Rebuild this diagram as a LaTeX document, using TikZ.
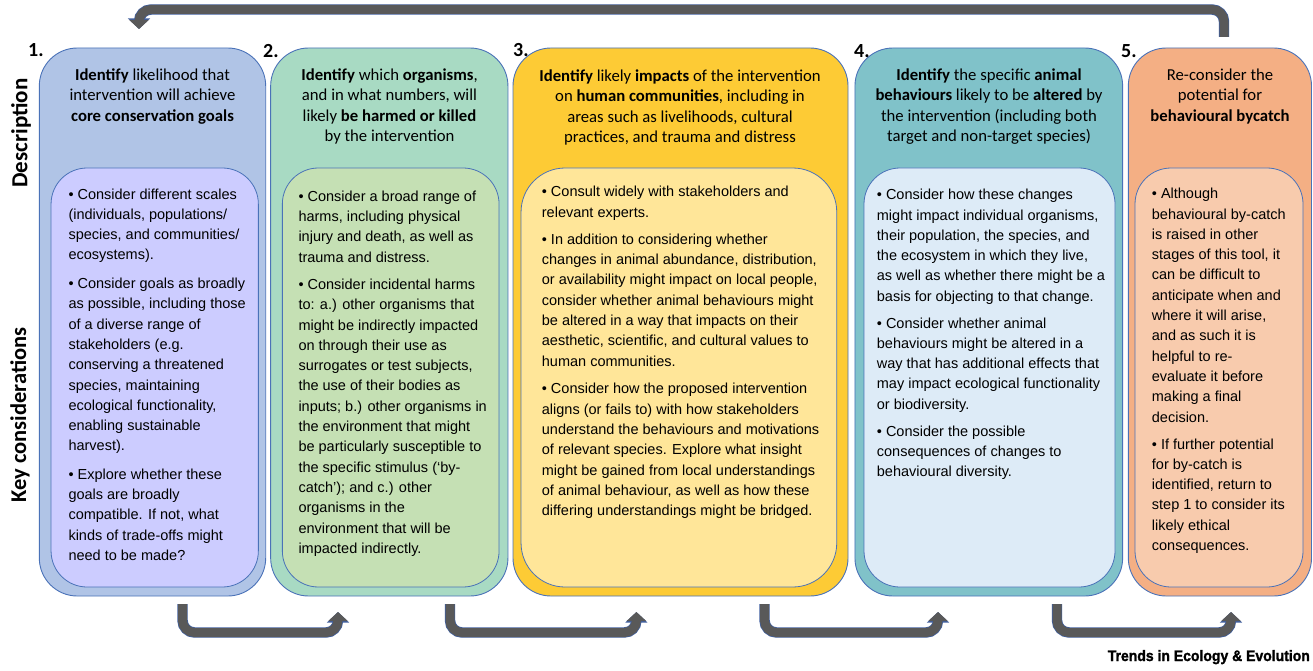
\documentclass[tikz,border=0pt]{standalone}
\usepackage{fontspec}
\usepackage{graphicx}
\setmainfont{Liberation Sans}
\newfontfamily\headfont{Carlito}
\newfontfamily\brandfont[FakeBold=1.6]{Liberation Sans Bold}
\usetikzlibrary{arrows.meta}
\definecolor{oA}{HTML}{B0C4E6}
\definecolor{iA}{HTML}{CCCCFF}
\definecolor{oB}{HTML}{A8DAC3}
\definecolor{iB}{HTML}{C5E0B4}
\definecolor{oC}{HTML}{FDCB35}
\definecolor{iC}{HTML}{FFE699}
\definecolor{oD}{HTML}{80C2C9}
\definecolor{iD}{HTML}{DDEBF7}
\definecolor{oE}{HTML}{F4AF84}
\definecolor{iE}{HTML}{F8CBAD}
\definecolor{edgeblue}{HTML}{4A72B8}
\definecolor{arrowgray}{HTML}{595959}
\definecolor{arrowedge}{HTML}{3F5F9F}
\begin{document}
\begin{tikzpicture}[x=1pt,y=-1pt,
  outerbox/.style={draw=edgeblue, line width=0.9pt, rounded corners=38pt, minimum height=548pt, inner sep=0pt},
  innerbox/.style={draw=edgeblue, line width=0.8pt, rounded corners=36pt, minimum height=419pt, inner sep=0pt},
  headtxt/.style={anchor=north, align=center, inner sep=0pt, font=\headfont\fontsize{16.7}{20.5}\selectfont},
  bodytxt/.style={anchor=north west, align=left, inner sep=0pt, font=\fontsize{14.5}{20.3}\selectfont},
  numlbl/.style={anchor=base west, inner sep=0pt, font=\headfont\bfseries\fontsize{20}{24}\selectfont},
  sidelbl/.style={rotate=90, inner sep=0pt, font=\headfont\bfseries\fontsize{23}{26}\selectfont},
  flowedge/.style={draw=arrowedge, line width=10.4pt, rounded corners=12pt, -{Triangle[width=21.5pt,length=10.5pt]}},
  flowfill/.style={draw=arrowgray, line width=9pt, rounded corners=12pt, -{Triangle[width=19pt,length=9pt]}}
]
\useasboundingbox (0,0) rectangle (1313,671);
\fill[white] (0,0) rectangle (1313,671);

% outer boxes
\node[outerbox, fill=oA, minimum width=226.4pt] (b1) at (152.5,322) {};
\node[outerbox, fill=oB, minimum width=237.3pt] (b2) at (389.3,322) {};
\node[outerbox, fill=oC, minimum width=335pt] (b3) at (680.5,322) {};
\node[outerbox, fill=oD, minimum width=267.7pt] (b4) at (988.8,322) {};
\node[outerbox, fill=oE, minimum width=183.2pt] (b5) at (1219.9,322) {};

% inner boxes
\node[innerbox, fill=iA, minimum width=207.3pt] (k1) at (154.7,377.5) {};
\node[innerbox, fill=iB, minimum width=216.7pt] (k2) at (390.7,377.5) {};
\node[innerbox, fill=iC, minimum width=315.7pt, rounded corners=44pt] (k3) at (678.9,377.5) {};
\node[innerbox, fill=iD, minimum width=251pt] (k4) at (989.5,377.5) {};
\node[innerbox, fill=iE, minimum width=168pt] (k5) at (1219,377.5) {};

% numbers
\node[numlbl] (n1) at (28,57) {1.};
\node[numlbl] (n2) at (263,58) {2.};
\node[numlbl] (n3) at (513,57) {3.};
\node[numlbl] (n4) at (854,58) {4.};
\node[numlbl] (n5) at (1121,58) {5.};

% side labels
\node[sidelbl] (ldesc) at (21,133) {Description};
\node[sidelbl, font=\headfont\bfseries\fontsize{22.5}{26}\selectfont] (lkey) at (20,415) {Key considerations};

% headings
\node[headtxt] (h1) at (152.5,68.5) {\textbf{Identify} likelihood that\\intervention will achieve\\\textbf{core conservation goals}};
\node[headtxt] (h2) at (389.5,68.5) {\textbf{Identify} which \textbf{organisms},\\and in what numbers, will\\likely \textbf{be harmed or killed}\\by the intervention};
\node[headtxt] (h3) at (680,69.5) {\textbf{Identify} likely \textbf{impacts} of the intervention\\on \textbf{human communities}, including in\\areas such as livelihoods, cultural\\practices, and trauma and distress};
\node[headtxt] (h4) at (989,68.5) {\textbf{Identify} the specific \textbf{animal}\\\textbf{behaviours} likely to be \textbf{altered} by\\the intervention (including both\\target and non-target species)};
\node[headtxt] (h5) at (1220,68.5) {Re-consider the\\potential for\\\textbf{behavioural bycatch}};

% body texts
\node[bodytxt] (t1) at (68.3,188.3) {• Consider different scales\\(individuals, populations/\\species, and communities/\\ecosystems).\\[8.3pt]
• Consider goals as broadly\\as possible, including those\\of a diverse range of\\stakeholders (e.g.\\conserving a threatened\\species, maintaining\\ecological functionality,\\enabling sustainable\\harvest).\\[8pt]
• Explore whether these\\goals are broadly\\compatible. If not, what\\kinds of trade-offs might\\need to be made?};

\node[bodytxt] (t2) at (298.3,190.5) {• Consider a broad range of\\harms, including physical\\injury and death, as well as\\trauma and distress.\\[7pt]
• Consider incidental harms\\to: a.) other organisms that\\might be indirectly impacted\\on through their use as\\surrogates or test subjects,\\the use of their bodies as\\inputs; b.) other organisms in\\the environment that might\\be particularly susceptible to\\the specific stimulus (‘by-\\catch’); and c.) other\\organisms in the\\environment that will be\\impacted indirectly.};

\node[bodytxt] (t3) at (541.7,186) {• Consult widely with stakeholders and\\relevant experts.\\[7pt]
• In addition to considering whether\\changes in animal abundance, distribution,\\or availability might impact on local people,\\consider whether animal behaviours might\\be altered in a way that impacts on their\\aesthetic, scientific, and cultural values to\\human communities.\\[7.5pt]
• Consider how the proposed intervention\\aligns (or fails to) with how stakeholders\\understand the behaviours and motivations\\of relevant species. Explore what insight\\might be gained from local understandings\\of animal behaviour, as well as how these\\differing understandings might be bridged.};

\node[bodytxt] (t4) at (876.7,189) {• Consider how these changes\\might impact individual organisms,\\their population, the species, and\\the ecosystem in which they live,\\as well as whether there might be a\\basis for objecting to that change.\\[6.5pt]
• Consider whether animal\\behaviours might be altered in a\\way that has additional effects that\\may impact ecological functionality\\or biodiversity.\\[6.7pt]
• Consider the possible\\consequences of changes to\\behavioural diversity.};

\node[bodytxt] (t5) at (1151.7,188) {• Although\\behavioural by-catch\\is raised in other\\stages of this tool, it\\can be difficult to\\anticipate when and\\where it will arise,\\and as such it is\\helpful to re-\\evaluate it before\\making a final\\decision.\\[6.7pt]
• If further potential\\for by-catch is\\identified, return to\\step 1 to consider its\\likely ethical\\consequences.};

% arrow end points
\coordinate (top-s) at (1224,37);
\coordinate (top-e) at (139,29);
\coordinate (a1s) at (182.5,604);
\coordinate (a1e) at (338,612);
\coordinate (a2s) at (450,604);
\coordinate (a2e) at (636.4,612);
\coordinate (a3s) at (764.5,604);
\coordinate (a3e) at (938,612);
\coordinate (a4s) at (1057,604);
\coordinate (a4e) at (1231,612);

\draw[flowedge] (top-s) -- ++(0,-27.5) -| (top-e);
\draw[flowfill] (top-s) -- ++(0,-27.5) -| (top-e);
\foreach \s/\e in {a1s/a1e,a2s/a2e,a3s/a3e,a4s/a4e}{
  \draw[flowedge] (\s) -- ++(0,28.5) -| (\e);
  \draw[flowfill] (\s) -- ++(0,28.5) -| (\e);
}

\node[anchor=base east, inner sep=0pt] (brand) at (1310,661) {\resizebox{202pt}{11pt}{\brandfont Trends in Ecology \& Evolution}};
\end{tikzpicture}
\end{document}
